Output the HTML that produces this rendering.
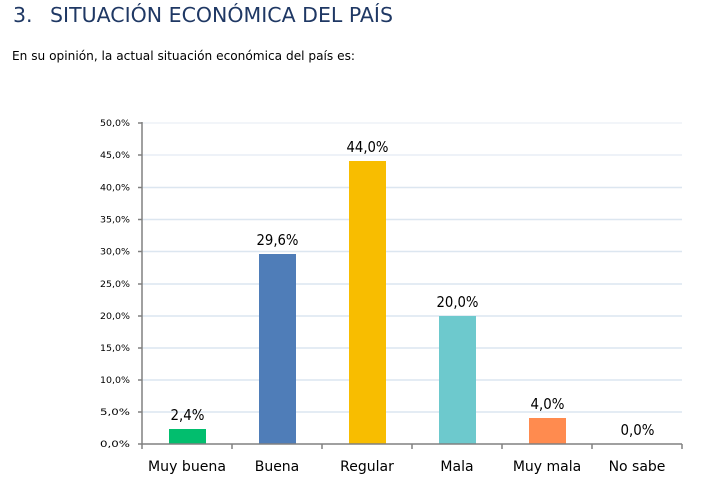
<!DOCTYPE html>
<html><head><meta charset="utf-8">
<style>
html,body{margin:0;padding:0;background:#fff;}
svg{display:block;}
text{font-family:"DejaVu Sans","Liberation Sans",sans-serif;}
</style></head>
<body>
<svg width="713" height="489" viewBox="0 0 713 489" xmlns="http://www.w3.org/2000/svg">
<rect width="713" height="489" fill="#fff"/>
<!-- Title -->
<text x="13" y="22" font-size="20.5" fill="#1F3864">3.</text>
<text x="50" y="22" font-size="20.5" fill="#1F3864" textLength="343" lengthAdjust="spacingAndGlyphs">SITUACIÓN ECONÓMICA DEL PAÍS</text>
<text x="12" y="60" font-size="12" fill="#000" textLength="343" lengthAdjust="spacingAndGlyphs">En su opinión, la actual situación económica del país es:</text>

<!-- Gridlines -->
<g stroke="#DCE6F0" stroke-width="1.5">
<line x1="142" x2="682" y1="412" y2="412"/>
<line x1="142" x2="682" y1="380" y2="380"/>
<line x1="142" x2="682" y1="348" y2="348"/>
<line x1="142" x2="682" y1="316" y2="316"/>
<line x1="142" x2="682" y1="284" y2="284"/>
<line x1="142" x2="682" y1="251.5" y2="251.5"/>
<line x1="142" x2="682" y1="219.5" y2="219.5"/>
<line x1="142" x2="682" y1="187.5" y2="187.5"/>
<line x1="142" x2="682" y1="155" y2="155" stroke="#E8EEF5"/>
<line x1="142" x2="682" y1="123" y2="123" stroke="#EEF2F7"/>
</g>

<!-- Bars -->
<rect x="169" y="429" width="37" height="15" fill="#02BE6E"/>
<rect x="259" y="254" width="37" height="190" fill="#4F7DB8"/>
<rect x="349" y="161" width="37" height="283" fill="#F8BD00"/>
<rect x="439" y="316" width="37" height="128" fill="#6DC9CD"/>
<rect x="529" y="418" width="37" height="26" fill="#FF8B4F"/>

<!-- Axes -->
<g stroke="#808080" stroke-width="1.5">
<line x1="142" x2="142" y1="122" y2="449"/>
<line x1="138" x2="682" y1="444" y2="444"/>
<line x1="138" x2="142" y1="412" y2="412"/>
<line x1="138" x2="142" y1="380" y2="380"/>
<line x1="138" x2="142" y1="348" y2="348"/>
<line x1="138" x2="142" y1="316" y2="316"/>
<line x1="138" x2="142" y1="284" y2="284"/>
<line x1="138" x2="142" y1="251.5" y2="251.5"/>
<line x1="138" x2="142" y1="219.5" y2="219.5"/>
<line x1="138" x2="142" y1="187.5" y2="187.5"/>
<line x1="138" x2="142" y1="155" y2="155"/>
<line x1="138" x2="142" y1="123" y2="123"/>
<line x1="232" x2="232" y1="444" y2="449"/>
<line x1="322" x2="322" y1="444" y2="449"/>
<line x1="412" x2="412" y1="444" y2="449"/>
<line x1="502" x2="502" y1="444" y2="449"/>
<line x1="592" x2="592" y1="444" y2="449"/>
<line x1="682" x2="682" y1="444" y2="449"/>
</g>

<!-- Y tick labels -->
<g font-size="9" fill="#000" text-anchor="end">
<text x="130" y="447" textLength="30" lengthAdjust="spacingAndGlyphs">0,0%</text>
<text x="130" y="415" textLength="30" lengthAdjust="spacingAndGlyphs">5,0%</text>
<text x="130" y="383" textLength="30" lengthAdjust="spacingAndGlyphs">10,0%</text>
<text x="130" y="351" textLength="30" lengthAdjust="spacingAndGlyphs">15,0%</text>
<text x="130" y="319" textLength="30" lengthAdjust="spacingAndGlyphs">20,0%</text>
<text x="130" y="287" textLength="30" lengthAdjust="spacingAndGlyphs">25,0%</text>
<text x="130" y="254.5" textLength="30" lengthAdjust="spacingAndGlyphs">30,0%</text>
<text x="130" y="222.5" textLength="30" lengthAdjust="spacingAndGlyphs">35,0%</text>
<text x="130" y="190.5" textLength="30" lengthAdjust="spacingAndGlyphs">40,0%</text>
<text x="130" y="158" textLength="30" lengthAdjust="spacingAndGlyphs">45,0%</text>
<text x="130" y="126" textLength="30" lengthAdjust="spacingAndGlyphs">50,0%</text>
</g>

<!-- Data labels -->
<g font-size="15" fill="#000" text-anchor="middle">
<text x="187.5" y="420" textLength="34" lengthAdjust="spacingAndGlyphs">2,4%</text>
<text x="277.5" y="245" textLength="42" lengthAdjust="spacingAndGlyphs">29,6%</text>
<text x="367.5" y="152" textLength="42" lengthAdjust="spacingAndGlyphs">44,0%</text>
<text x="457.5" y="307" textLength="42" lengthAdjust="spacingAndGlyphs">20,0%</text>
<text x="547.5" y="409" textLength="34" lengthAdjust="spacingAndGlyphs">4,0%</text>
<text x="637.5" y="435" textLength="34" lengthAdjust="spacingAndGlyphs">0,0%</text>
</g>

<!-- Category labels -->
<g font-size="14" fill="#000" text-anchor="middle">
<text x="187" y="471" textLength="78" lengthAdjust="spacingAndGlyphs">Muy buena</text>
<text x="277" y="471">Buena</text>
<text x="367" y="471">Regular</text>
<text x="457" y="471">Mala</text>
<text x="547" y="471">Muy mala</text>
<text x="637" y="471">No sabe</text>
</g>
</svg>
</body></html>
